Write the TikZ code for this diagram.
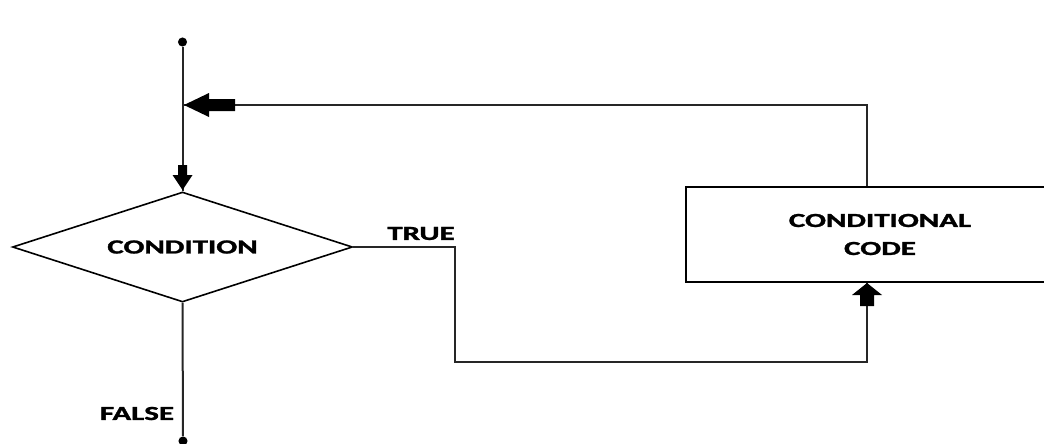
\documentclass[tikz,border=0pt]{standalone}
\usepackage{fontspec}
\setmainfont{Carlito}[BoldFeatures={FakeBold=1.2}]
\usetikzlibrary{shapes.geometric}
% wide bold capitals used for all labels
\newcommand\widecaps[1]{\scalebox{1.55}[1]{\bfseries #1}}
\tikzset{
  conn/.style={line width=1.5pt, draw=black!85},
  decision/.style={diamond, draw, line width=1.2pt, aspect=3.09,
    minimum width=255pt, minimum height=82.5pt, inner sep=0pt,
    font=\fontsize{15}{18}\selectfont},
  process/.style={rectangle, draw, line width=1.4pt,
    minimum width=291pt, minimum height=71.25pt, inner sep=0pt,
    align=center, font=\fontsize{15}{21}\selectfont},
  lab/.style={font=\fontsize{15}{18}\selectfont, inner sep=0pt},
  blockarrow/.style={fill=black, draw=none},
  enddot/.style={circle, fill=black, inner sep=0pt, minimum size=6.8pt}
}
\begin{document}
\begin{tikzpicture}[x=0.75pt, y=-0.75pt]
  \useasboundingbox (0,0) rectangle (1044,443);
  \clip (0,0) rectangle (1044,443);

  % nodes
  \node[enddot] (start) at (182.5,42) {};
  \node[enddot] (stop) at (183,441) {};
  \node[decision] (cond) at (182.5,247) {\widecaps{CONDITION}};
  \node[process] (code) at (880,234.5) {\widecaps{CONDITIONAL}\\\widecaps{CODE}};
  \node[lab] (truelab) at (421,233.5) {\widecaps{TRUE}};
  \node[lab] (falselab) at (137,413.5) {\widecaps{FALSE}};

  % connector anchors
  \coordinate (join) at (182.5,105);
  \coordinate (loopx) at (867,0);
  \coordinate (turn) at (455,362);

  % connectors
  \draw[conn] (start) -- (cond.north);
  \draw[conn] (cond.south) -- (stop);
  \draw[conn] (loopx |- code.north) |- (join);
  \draw[conn] (cond.east) -| (turn) -| (loopx |- code.south);

  % block arrow heads
  \fill[blockarrow] (184,105) -- (209,93) -- (209,99) -- (235,99)
    -- (235,111) -- (209,111) -- (209,117) -- cycle;
  \fill[blockarrow] (182.5,190) -- (172.5,175) -- (178,175) -- (178,165)
    -- (187,165) -- (187,175) -- (192.5,175) -- cycle;
  \fill[blockarrow] (867,283) -- (882,295) -- (874,295) -- (874,306)
    -- (860,306) -- (860,295) -- (852,295) -- cycle;
\end{tikzpicture}
\end{document}
